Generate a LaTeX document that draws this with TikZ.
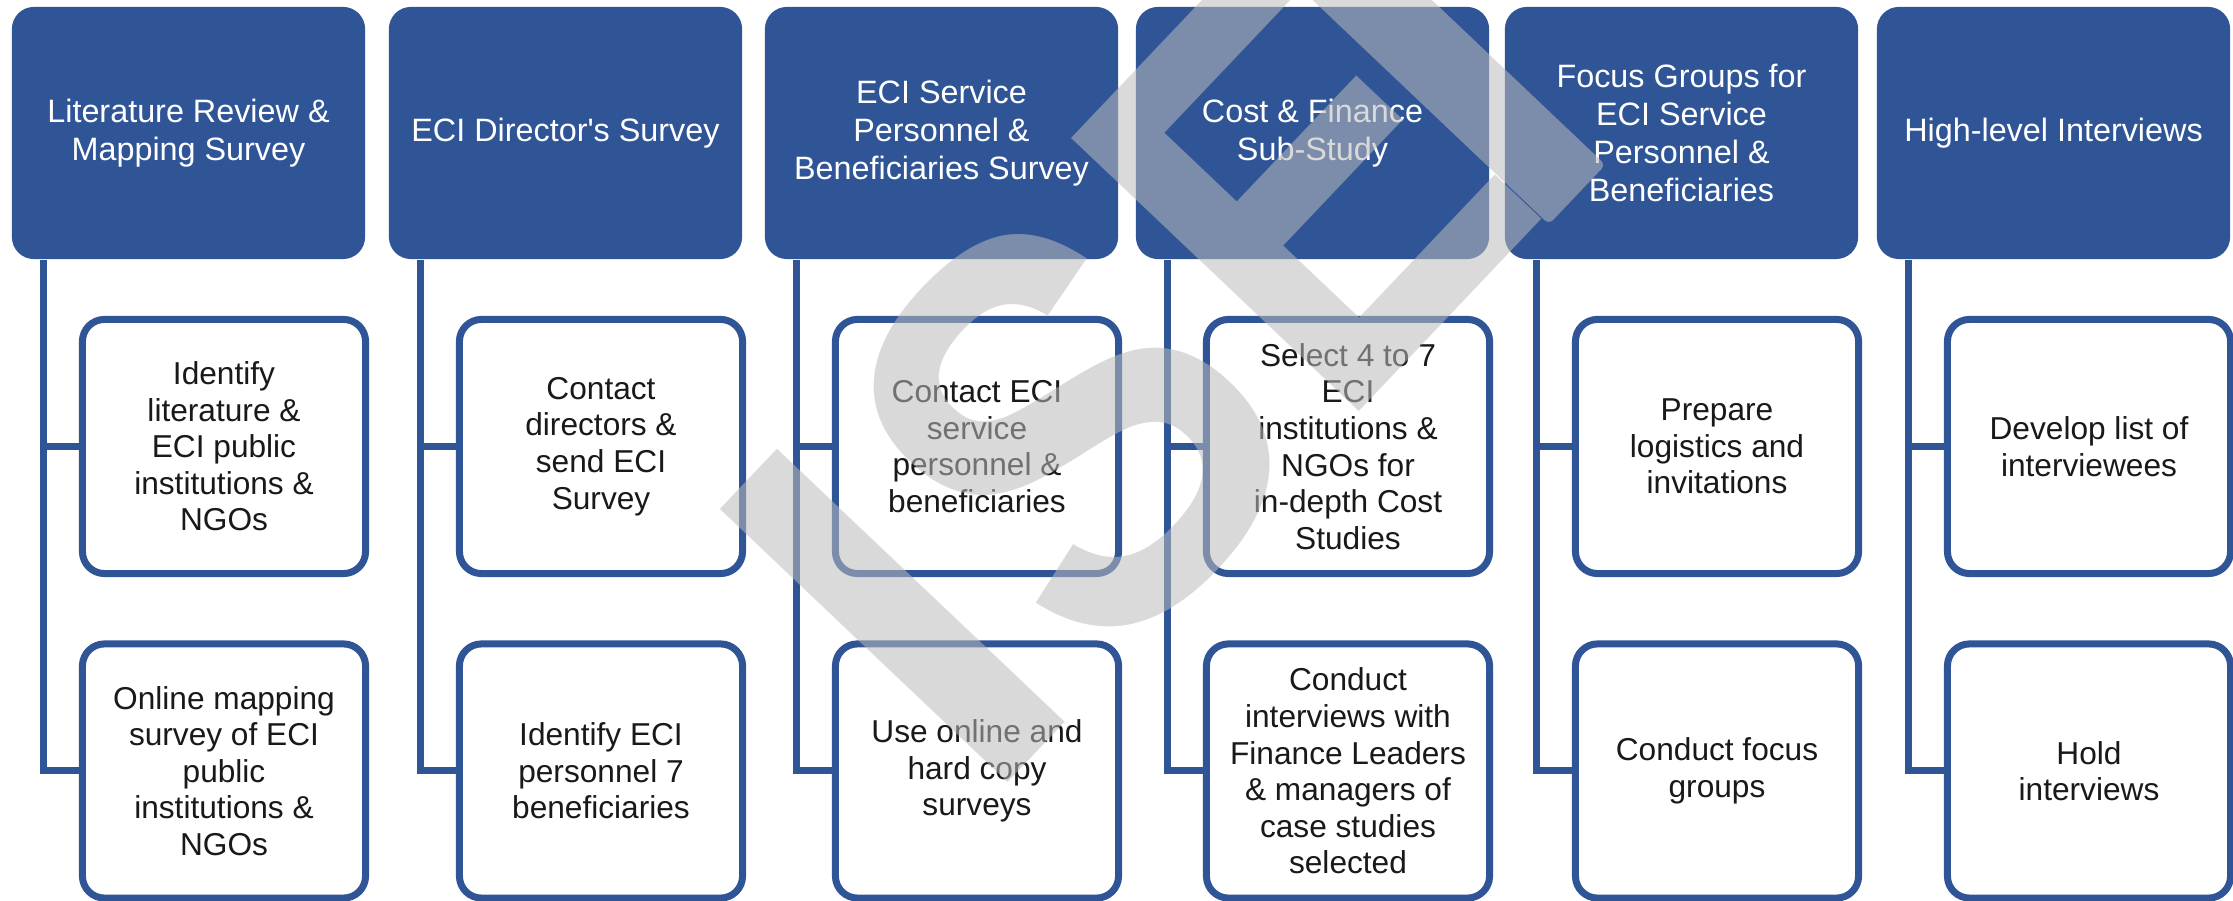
\documentclass[tikz,border=0pt]{standalone}
\usepackage{fontspec}
\setmainfont{Liberation Sans}
\usepackage{graphicx}
\usepackage{tikz}
\usetikzlibrary{positioning}

\definecolor{hdrblue}{RGB}{47,85,151}
\definecolor{wmgray}{RGB}{187,187,187}

\tikzset{
  header/.style={fill=hdrblue, text=white, rounded corners=0.22cm, inner sep=0pt,
    minimum width=3.53cm, minimum height=2.52cm, align=center,
    font=\fontsize{9.2}{10.8}\selectfont},
  task/.style={draw=hdrblue, fill=white, line width=0.07cm, rounded corners=0.22cm,
    inner sep=0pt, minimum width=2.83cm, minimum height=2.54cm, align=center,
    text=black!90, font=\fontsize{9}{10.4}\selectfont},
  trunk/.style={draw=hdrblue, line width=0.07cm},
  wmletter/.style={rotate=46.5, inner sep=0pt, text=wmgray, text opacity=0.55,
    font=\fontsize{164}{164}\selectfont\bfseries},
  wmstem/.style={rotate=46.5, inner sep=0pt, fill=wmgray, fill opacity=0.55,
    rounded corners=0.06cm, minimum width=0.82cm, minimum height=4.14cm}
}

\begin{document}
\begin{tikzpicture}[x=0.01cm,y=-0.01cm]
  \useasboundingbox (0,0) rectangle (2233,901);
  \clip (0,0) rectangle (2233,901);
  % one column per study component: left edge / heading / upper task / lower task
  \foreach \i/\lx/\htext/\atext/\btext in {
      1/12/{Literature Review \&\\Mapping Survey}/{Identify\\literature \&\\ECI public\\institutions \&\\NGOs}/{Online mapping\\survey of ECI\\public\\institutions \&\\NGOs},
      2/389/{ECI Director\textquotesingle s Survey}/{Contact\\directors \&\\send ECI\\Survey}/{Identify ECI\\personnel 7\\beneficiaries},
      3/765/{ECI Service\\Personnel \&\\Beneficiaries Survey}/{Contact ECI\\service\\personnel \&\\beneficiaries}/{Use online and\\hard copy\\surveys},
      4/1136/{Cost \& Finance\\Sub-Study}/{Select 4 to 7\\ECI\\institutions \&\\NGOs for\\in-depth Cost\\Studies}/{Conduct\\interviews with\\Finance Leaders\\\& managers of\\case studies\\selected},
      5/1505/{Focus Groups for\\ECI Service\\Personnel \&\\Beneficiaries}/{Prepare\\logistics and\\invitations}/{Conduct focus\\groups},
      6/1877/{High-level Interviews}/{Develop list of\\interviewees}/{Hold\\interviews}}{
    \node[header] (h\i) at (\lx+176.5,133) {\htext};
    \node[task] (a\i) at (\lx+212,446.5) {\atext};
    \node[task] (b\i) at (\lx+212,771) {\btext};
    \coordinate (r\i) at ([xshift=0.32cm]h\i.south west);
    \draw[trunk] (r\i) |- (b\i.west);
    \draw[trunk] (r\i |- a\i.west) -- (a\i.west);
  }
  % watermark
  \node[wmletter] (wmI) at (893,616) {I};
  \node[wmletter] (wmS) at (1070,429) {\scalebox{0.85}[1]{S}};
  \node[wmletter] (wmE) at (1302,184) {\scalebox{0.82}[1]{E}};
  \node[wmstem] (wmF) at (1427,52) {};
\end{tikzpicture}
\end{document}
